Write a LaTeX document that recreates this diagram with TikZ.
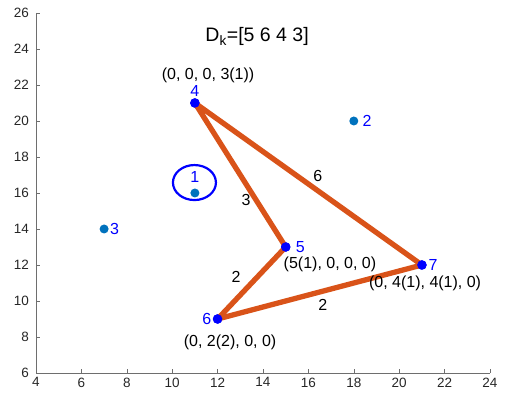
\documentclass[tikz,border=0pt]{standalone}
\usepackage{fontspec}
\setmainfont{Liberation Sans}
\usepackage{tikz}
\usetikzlibrary{positioning, shapes.geometric}
\definecolor{mBlue}{HTML}{0072BD}
\definecolor{mOrange}{HTML}{D95319}
\definecolor{pBlue}{HTML}{0000FF}
\definecolor{axInk}{HTML}{262626}
\definecolor{axLine}{HTML}{6E6E6E}
\tikzset{
  freept/.style={circle, fill=mBlue, inner sep=0pt, minimum size=9pt},
  pathpt/.style={circle, fill=pBlue, inner sep=0pt, minimum size=9.5pt},
  idlab/.style={font=\fontsize{16}{18}\selectfont, text=pBlue, inner sep=0pt},
  veclab/.style={font=\fontsize{16}{19}\selectfont, text=black, inner sep=0pt},
  elab/.style={font=\fontsize{16}{18}\selectfont, text=black, inner sep=0pt},
  edge/.style={draw=mOrange, line width=5.3pt, line cap=round, line join=round},
  ticklab/.style={font=\fontsize{13.5}{16}\selectfont, text=axInk, inner sep=0pt},
}

\begin{document}
\begin{tikzpicture}[x=22.7pt, y=18pt]
  \useasboundingbox (2.414,4.722) rectangle (24.705,26.722);
  % axes
  \coordinate (o) at (4,6);
  \coordinate (xe) at (24,6);
  \coordinate (ye) at (4,26);
  \draw[axLine, line width=0.6pt] (ye) -- (o) -- (xe);
  \foreach \x in {6,8,...,24}
    \draw[axLine, line width=0.6pt] (\x,6) -- ++(0,4pt);
  \foreach \y in {8,10,...,26}
    \draw[axLine, line width=0.6pt] (4,\y) -- ++(4pt,0);
  \foreach \x in {4,6,...,24}
    \node[ticklab, anchor=north] (xt\x) at ([yshift=-4.5pt]\x,6) {\x};
  \foreach \y in {6,8,...,26}
    \node[ticklab, anchor=east] (yt\y) at ([xshift=-7pt]4,\y) {\y};

  % points
  \node[freept] (p1) at (11,16) {};
  \node[freept] (p2) at (18,20) {};
  \node[freept] (p3) at (7,14) {};
  \node[pathpt] (p4) at (11,21) {};
  \node[pathpt] (p5) at (15,13) {};
  \node[pathpt] (p6) at (12,9) {};
  \node[pathpt] (p7) at (21,12) {};

  % route
  \draw[edge] (p4.center) -- (p5.center) -- (p6.center) -- (p7.center) -- cycle;
  \node[pathpt] at (p4) {};
  \node[pathpt] at (p5) {};
  \node[pathpt] at (p6) {};
  \node[pathpt] at (p7) {};

  % selected point
  \node[draw=pBlue, line width=2.2pt, ellipse, minimum width=43pt, minimum height=35pt,
    inner sep=0pt] (sel) at (10.98,16.58) {};

  % ids
  \node[idlab, above=5.5pt of p1] (l1) {1};
  \node[idlab, right=4pt of p2] (l2) {2};
  \node[idlab, right=1pt of p3] (l3) {3};
  \node[idlab, above=1.5pt of p4] (l4) {4};
  \node[idlab, right=5pt of p5] (l5) {5};
  \node[idlab, left=1.2pt of p6] (l6) {6};
  \node[idlab, right=1.5pt of p7] (l7) {7};

  % edge weights
  \node[elab] (w45) at (13.25,15.6) {3};
  \node[elab] (w47) at (16.42,16.94) {6};
  \node[elab] (w56) at (12.81,11.33) {2};
  \node[elab] (w67) at (16.64,9.78) {2};

  % vectors
  \node[veclab] (v4) at (11.58,22.55) {(0, 0, 0, 3(1))};
  \node[veclab] (v5) at (16.95,12.06) {(5(1), 0, 0, 0)};
  \node[veclab] (v6) at (12.55,7.72) {(0, 2(2), 0, 0)};
  \node[veclab] (v7) at (21.14,11.0) {(0, 4(1), 4(1), 0)};

  \node[font=\fontsize{19.5}{23}\selectfont, inner sep=0pt] (dk) at (13.74,24.67) {D\textsubscript{k}=[5 6 4 3]};
\end{tikzpicture}
\end{document}
